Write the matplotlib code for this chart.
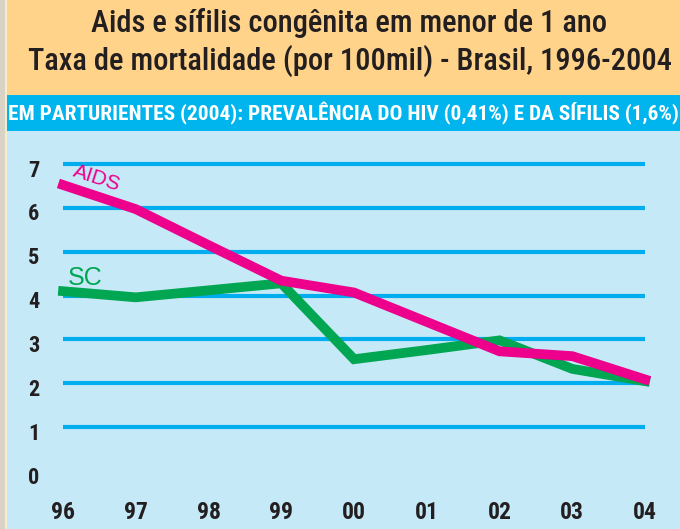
import matplotlib.pyplot as plt
from matplotlib.patches import Rectangle

# data
years = ["96", "97", "98", "99", "00", "01", "02", "03", "04"]
aids = [6.52, 5.97, 5.15, 4.34, 4.07, 3.40, 2.73, 2.62, 2.09]
sc = [4.10, 3.96, 4.12, 4.28, 2.55, 2.76, 2.98, 2.33, 2.05]
yticks = [0, 1, 2, 3, 4, 5, 6, 7]

title1 = "Aids e sífilis congênita em menor de 1 ano"
title2 = "Taxa de mortalidade (por 100mil) - Brasil, 1996-2004"
subtitle = "EM PARTURIENTES (2004): PREVALÊNCIA DO HIV (0,41%) E DA SÍFILIS (1,6%)"

W, H = 680, 529
narrow = ["Roboto Condensed", "Liberation Sans Narrow", "DejaVu Sans"]
dark = "#231F20"
magenta = "#EC008C"
green = "#00A651"
grid_blue = "#00AEEF"

fig = plt.figure(figsize=(W / 100, H / 100), dpi=100)
fig.patch.set_facecolor("#D9D3C5")


def px(x0, y0, w, h):
    # pixel box (top-left origin) -> figure fraction
    return (x0 / W, 1 - (y0 + h) / H, w / W, h / H)


# background bands
for box, col in [((5, 0, 2, 529), "#F3EBD2"),
                 ((7, 0, 673, 95), "#FFD38A"),
                 ((7, 95, 673, 36), "#00B5EE"),
                 ((7, 131, 673, 398), "#C6E9F8")]:
    x, y, w, h = px(*box)
    fig.patches.append(Rectangle((x, y), w, h, transform=fig.transFigure,
                                 facecolor=col, edgecolor="none", zorder=-5))

fig.text(349 / W, 1 - 23 / H, title1, ha="center", va="center",
         fontsize=22, family=narrow, weight="medium", color=dark)
fig.text(350 / W, 1 - 61 / H, title2, ha="center", va="center",
         fontsize=22, family=narrow, weight="medium", color=dark)
fig.text(343 / W, 1 - 113 / H, subtitle, ha="center", va="center",
         fontsize=15.4, family=narrow, weight="bold", color="white")

ax = fig.add_axes(px(7, 131, 673, 398))
ax.set_zorder(2)
ax.set_facecolor("none")
ax.set_xlim(-0.77, 8.48)
ax.set_ylim(-1.318, 7.75)
for s in ax.spines.values():
    s.set_visible(False)
ax.set_xticks([])
ax.set_yticks([])

x = list(range(len(years)))
ax.hlines(yticks[1:], 0, 8, color=grid_blue, lw=3, zorder=1)
ax.plot(x, sc, color=green, lw=7, solid_joinstyle="miter", zorder=2)
ax.plot(x, aids, color=magenta, lw=7, solid_joinstyle="miter", zorder=3)

for v in yticks:
    ax.text(-0.4, v - 0.15, str(v), ha="center", va="center",
            fontsize=16, family=narrow, weight="bold", color=dark)
for i, lab in enumerate(years):
    ax.text(i, -0.95, lab, ha="center", va="center",
            fontsize=17, family=narrow, weight="bold", color=dark)

ax.text(0.46, 6.68, "AIDS", rotation=-18, ha="center", va="center",
        fontsize=15, color=magenta, family=["Liberation Sans", "DejaVu Sans"])
ax.text(0.31, 4.4, "SC", ha="center", va="center",
        fontsize=18, color=green, family=["Liberation Sans", "DejaVu Sans"])

fig.savefig("out.png", dpi=100)
